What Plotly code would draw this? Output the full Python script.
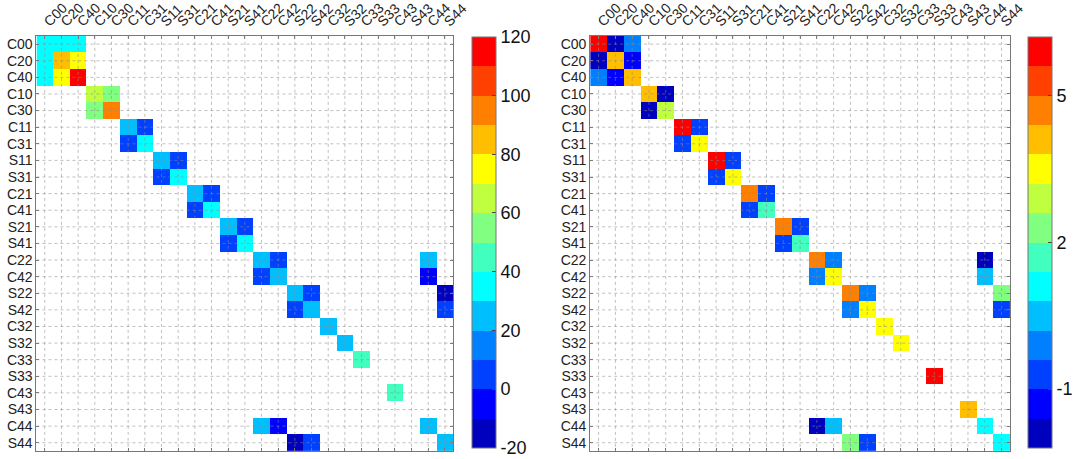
import numpy as np
import plotly.graph_objects as go

# Coefficient labels (rows top-to-bottom, columns left-to-right)
labels = ["C00", "C20", "C40", "C10", "C30", "C11", "C31", "S11", "S31",
          "C21", "C41", "S21", "S41", "C22", "C42", "S22", "S42",
          "C32", "S32", "C33", "S33", "C43", "S43", "C44", "S44"]

# Left matrix: (row, column, value)
left_entries = [
    ("C00", "C00", 36), ("C00", "C20", 35), ("C00", "C40", 33),
    ("C20", "C00", 35), ("C20", "C20", 86), ("C20", "C40", 76),
    ("C40", "C00", 33), ("C40", "C20", 76), ("C40", "C40", 116),
    ("C10", "C10", 64), ("C10", "C30", 56),
    ("C30", "C10", 56), ("C30", "C30", 96),
    ("C11", "C11", 26), ("C11", "C31", 4),
    ("C31", "C11", 4), ("C31", "C31", 34),
    ("S11", "S11", 26), ("S11", "S31", 4),
    ("S31", "S11", 4), ("S31", "S31", 34),
    ("C21", "C21", 25), ("C21", "C41", 5),
    ("C41", "C21", 5), ("C41", "C41", 33),
    ("S21", "S21", 25), ("S21", "S41", 5),
    ("S41", "S21", 5), ("S41", "S41", 33),
    ("C22", "C22", 24), ("C22", "C42", 6), ("C22", "C44", 24),
    ("C42", "C22", 6), ("C42", "C42", 24), ("C42", "C44", -6),
    ("S22", "S22", 24), ("S22", "S42", 6), ("S22", "S44", -14),
    ("S42", "S22", 6), ("S42", "S42", 24), ("S42", "S44", 3),
    ("C32", "C32", 23),
    ("S32", "S32", 23),
    ("C33", "C33", 46),
    ("C43", "C43", 45),
    ("C44", "C22", 24), ("C44", "C42", -6), ("C44", "C44", 23),
    ("S44", "S22", -14), ("S44", "S42", 3), ("S44", "S44", 27),
]

# Right matrix: (row, column, value)
right_entries = [
    ("C00", "C00", 5.9), ("C00", "C20", -1.9), ("C00", "C40", -0.1),
    ("C20", "C00", -1.9), ("C20", "C20", 4.1), ("C20", "C40", -1.3),
    ("C40", "C00", -0.1), ("C40", "C20", -1.3), ("C40", "C40", 4.1),
    ("C10", "C10", 4.1), ("C10", "C30", -1.9),
    ("C30", "C10", -1.9), ("C30", "C30", 2.9),
    ("C11", "C11", 5.9), ("C11", "C31", -0.7),
    ("C31", "C11", -0.7), ("C31", "C31", 3.5),
    ("S11", "S11", 5.9), ("S11", "S31", -0.7),
    ("S31", "S11", -0.7), ("S31", "S31", 3.5),
    ("C21", "C21", 4.7), ("C21", "C41", -0.7),
    ("C41", "C21", -0.7), ("C41", "C41", 1.7),
    ("S21", "S21", 4.7), ("S21", "S41", -0.7),
    ("S41", "S21", -0.7), ("S41", "S41", 1.7),
    ("C22", "C22", 4.7), ("C22", "C42", -0.1), ("C22", "C44", -1.9),
    ("C42", "C22", -0.1), ("C42", "C42", 3.5), ("C42", "C44", 0.5),
    ("S22", "S22", 4.7), ("S22", "S42", -0.1), ("S22", "S44", 2.3),
    ("S42", "S22", -0.1), ("S42", "S42", 3.5), ("S42", "S44", -0.7),
    ("C32", "C32", 3.5),
    ("S32", "S32", 3.5),
    ("S33", "S33", 5.9),
    ("S43", "S43", 4.1),
    ("C44", "C22", -1.9), ("C44", "C42", 0.5), ("C44", "C44", 1.1),
    ("S44", "S22", 2.3), ("S44", "S42", -0.7), ("S44", "S44", 1.1),
]

left_range = (-20, 120)
left_ticks = [-20, 0, 20, 40, 60, 80, 100, 120]
right_range = (-2.2, 6.2)
right_ticks = [-1, 2, 5]

# 14-step jet palette
jet14 = [(0, 0, 191), (0, 0, 255), (0, 64, 255), (0, 128, 255), (0, 191, 255),
         (0, 255, 255), (64, 255, 191), (128, 255, 128), (191, 255, 64),
         (255, 255, 0), (255, 191, 0), (255, 128, 0), (255, 64, 0), (255, 0, 0)]
n = len(jet14)
colorscale = []
for i, c in enumerate(jet14):
    col = "rgb(%d,%d,%d)" % c
    colorscale.append([i / n, col])
    colorscale.append([(i + 1) / n, col])


def build(entries):
    m = np.full((len(labels), len(labels)), np.nan)
    for r, c, v in entries:
        m[labels.index(r), labels.index(c)] = v
    return m


W, H = 1089, 459
idx = list(range(len(labels)))

fig = go.Figure()

cb_top, cb_bottom = 35, 448
cb_common = dict(thickness=24, thicknessmode="pixels",
                 len=(cb_bottom - cb_top) / H, lenmode="fraction",
                 y=1 - cb_top / H, yanchor="top",
                 xanchor="left", xpad=0, ypad=0, outlinewidth=1,
                 outlinecolor="#777", ticks="inside", ticklen=4,
                 tickcolor="#444", ticklabeloverflow="allow",
                 tickfont=dict(family="Liberation Sans, Arial", size=18, color="#111"))

fig.add_trace(go.Heatmap(
    z=build(left_entries), x=idx, y=idx, xaxis="x", yaxis="y",
    zmin=left_range[0], zmax=left_range[1], colorscale=colorscale,
    hoverongaps=False,
    colorbar=dict(x=479 / W, tickmode="array", tickvals=left_ticks,
                  ticktext=[str(t) for t in left_ticks], **cb_common)))

fig.add_trace(go.Heatmap(
    z=build(right_entries), x=idx, y=idx, xaxis="x2", yaxis="y2",
    zmin=right_range[0], zmax=right_range[1], colorscale=colorscale,
    hoverongaps=False,
    colorbar=dict(x=1043 / W, tickmode="array", tickvals=right_ticks,
                  ticktext=[str(t) for t in right_ticks], **cb_common)))

tickfont = dict(family="Liberation Sans, Arial", size=14, color="#222")
axis_common = dict(tickmode="array", tickvals=idx, ticktext=labels,
                   ticks="inside", ticklen=3, tickcolor="#777",
                   showline=True, linecolor="#777", linewidth=1,
                   mirror="ticks", showgrid=False, zeroline=False,
                   tickfont=tickfont)

ydom = [1 - 451 / H, 1 - 34 / H]
fig.update_layout(
    width=W, height=H,
    margin=dict(l=0, r=0, t=0, b=0),
    paper_bgcolor="white", plot_bgcolor="white",
    showlegend=False,
    xaxis=dict(domain=[37 / W, 460 / W], anchor="y", side="top",
               tickangle=-45, range=[-0.5, 24.5], **axis_common),
    yaxis=dict(domain=ydom, anchor="x", range=[24.5, -0.5], **axis_common),
    xaxis2=dict(domain=[599 / W, 1025 / W], anchor="y2", side="top",
                tickangle=-45, range=[-0.5, 24.5], **axis_common),
    yaxis2=dict(domain=ydom, anchor="x2", range=[24.5, -0.5], **axis_common),
)

# Dotted grid through every category centre, drawn over the cells
grid = dict(color="rgba(140,140,140,0.55)", width=1, dash="dot")
shapes = []
for xr, yr in (("x", "y"), ("x2", "y2")):
    for i in idx:
        shapes.append(dict(type="line", xref=xr, yref=yr, x0=i, x1=i,
                           y0=-0.5, y1=24.5, line=grid, layer="above"))
        shapes.append(dict(type="line", xref=xr, yref=yr, y0=i, y1=i,
                           x0=-0.5, x1=24.5, line=grid, layer="above"))
fig.update_layout(shapes=shapes)

fig.write_html("out.html")
